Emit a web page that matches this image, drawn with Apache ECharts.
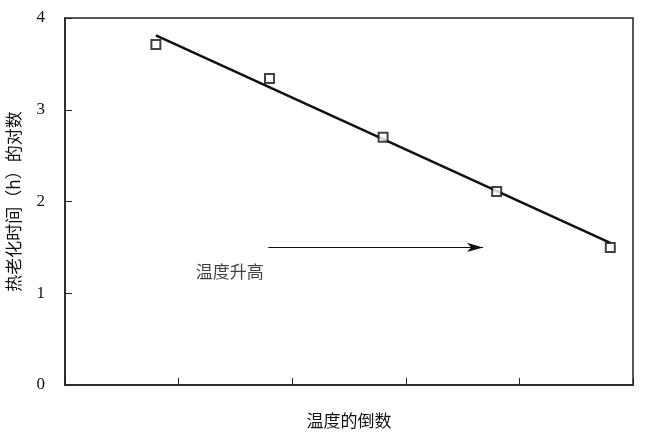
<!DOCTYPE html>
<html><head><meta charset="utf-8">
<script src="https://cdn.jsdelivr.net/npm/echarts@6/dist/echarts.min.js"></script>
<style>html,body{margin:0;padding:0;background:#fff}#c{width:650px;height:434px}</style>
</head><body><div id="c"></div>
<script>
const xValues = [0.8, 1.8, 2.8, 3.8, 4.8];
const yValues = [3.71, 3.34, 2.70, 2.11, 1.50];
const fitX = [0.8, 4.8];
const fitY = [3.81, 1.55];
const arrowX = [1.79, 3.68];
const arrowY = [1.50, 1.50];
const noteText = '温度升高';
const notePos = [1.45, 1.24];
const yTicks = [0, 1, 2, 3, 4];
const xName = '温度的倒数';
const yName = '热老化时间（h）的对数';

const serif = '"Liberation Serif","DejaVu Serif",serif';
const cjk = '"Noto Sans CJK SC","Noto Sans CJK JP",sans-serif';
const chart = echarts.init(document.getElementById('c'));
chart.setOption({
  animation: false,
  backgroundColor: '#fff',
  grid: {left: 65, right: 17, top: 18, bottom: 49, show: true, borderColor: '#222', borderWidth: 1.5, backgroundColor: 'transparent', containLabel: false, outerBoundsMode: 'none'},
  xAxis: {
    type: 'value', min: 0, max: 5, interval: 1,
    name: xName, nameLocation: 'middle', nameGap: 27,
    nameTextStyle: {fontFamily: cjk, fontSize: 17, color: '#111'},
    axisLine: {show: true, lineStyle: {color: '#222', width: 1.5}},
    axisTick: {show: true, inside: true, length: 7, lineStyle: {color: '#222'}},
    axisLabel: {show: false},
    splitLine: {show: false}
  },
  yAxis: {
    type: 'value', min: yTicks[0], max: yTicks[yTicks.length-1], interval: 1,
    name: yName, nameLocation: 'middle', nameGap: 43, nameRotate: 90,
    nameTextStyle: {fontFamily: cjk, fontSize: 17, color: '#111'},
    axisLine: {show: true, lineStyle: {color: '#222', width: 1.5}},
    axisTick: {show: true, inside: true, length: 7, lineStyle: {color: '#222'}},
    axisLabel: {fontFamily: serif, fontSize: 17, color: '#111', margin: 20},
    splitLine: {show: false}
  },
  series: [
    {
      type: 'line', data: fitX.map((x, i) => [x, fitY[i]]),
      showSymbol: false, symbol: 'none',
      lineStyle: {color: '#111', width: 2.5}, z: 2
    },
    {
      type: 'scatter', data: xValues.map((x, i) => [x, yValues[i]]),
      symbol: 'rect', symbolSize: 9,
      itemStyle: {color: '#fff', borderColor: '#111', borderWidth: 2}, z: 3
    },
    {
      type: 'scatter', data: [notePos], symbolSize: 0,
      label: {show: true, position: 'inside', formatter: noteText, fontFamily: cjk, fontSize: 17, color: '#111'},
      markLine: {
        silent: true, animation: false,
        symbol: ['none', 'arrow'], symbolSize: [7, 16],
        lineStyle: {color: '#111', width: 1.2, type: 'solid'},
        itemStyle: {color: '#111'},
        label: {show: false},
        data: [[{coord: [arrowX[0], arrowY[0]]}, {coord: [arrowX[1], arrowY[1]]}]]
      }
    }
  ]
});
</script></body></html>
